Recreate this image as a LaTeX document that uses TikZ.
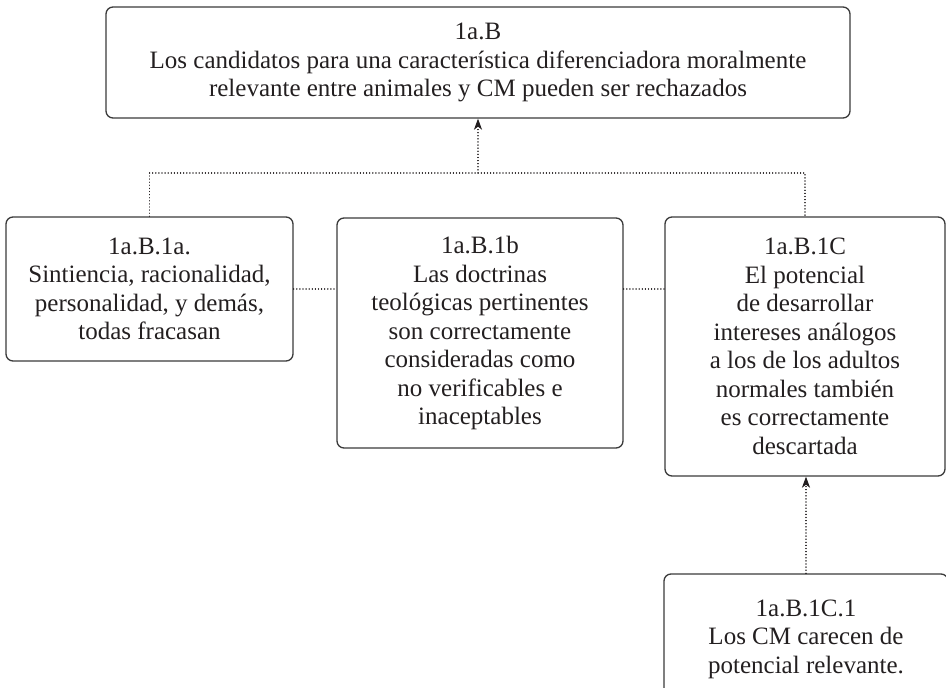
\documentclass[tikz,border=0pt]{standalone}
\usepackage{fontspec}
\setmainfont{Liberation Serif}
\usetikzlibrary{arrows.meta}
\definecolor{ink}{HTML}{231F20}
\definecolor{edgec}{HTML}{3A3A3A}
\begin{document}
\begin{tikzpicture}[x=1pt,y=-1pt,
  box/.style={draw=edgec, line width=1.3pt, rounded corners=7pt, align=center, inner sep=0pt, text=ink, font=\fontsize{25}{28.5}\selectfont},
  conn/.style={draw=ink, line width=1.3pt, line cap=round, dash pattern=on 0.1pt off 3pt},
  tip/.style={-{Stealth[length=11pt,width=8pt,inset=3pt]}}]
\useasboundingbox (0,0) rectangle (946,688);
\begin{scope}
\clip (0,0) rectangle (946,688);
\node[box, minimum width=744pt, minimum height=111pt] (top) at (478,62.5)
  {1a.B\\Los candidatos para una característica diferenciadora moralmente\\relevante entre animales y CM pueden ser rechazados};
\node[box, minimum width=287pt, minimum height=144pt] (left) at (149.5,289)
  {1a.B.1a.\\Sintiencia, racionalidad,\\personalidad, y demás,\\todas fracasan};
\node[box, minimum width=286pt, minimum height=230pt] (middle) at (480,333)
  {1a.B.1b\\Las doctrinas\\teológicas pertinentes\\son correctamente\\consideradas como\\no verificables e\\inaceptables};
\node[box, minimum width=280pt, minimum height=259pt] (right) at (805,346.5)
  {1a.B.1C\\El potencial\\de desarrollar\\intereses análogos\\a los de los adultos\\normales también\\es correctamente\\descartada};
\node[box, minimum width=284pt, minimum height=130pt] (bottom) at (806,639)
  {1a.B.1C.1\\Los CM carecen de\\potencial relevante.};
\coordinate (j) at (478,173);
\draw[conn] (left.north) |- (j) -| (right.north);
\draw[conn, tip] (j) -- (top.south);
\draw[conn] (left.east) -- (left.east -| middle.west);
\draw[conn] (middle.east |- left.east) -- (right.west |- left.east);
\draw[conn, tip] (bottom.north) -- (bottom.north |- right.south);
\end{scope}
\end{tikzpicture}
\end{document}
